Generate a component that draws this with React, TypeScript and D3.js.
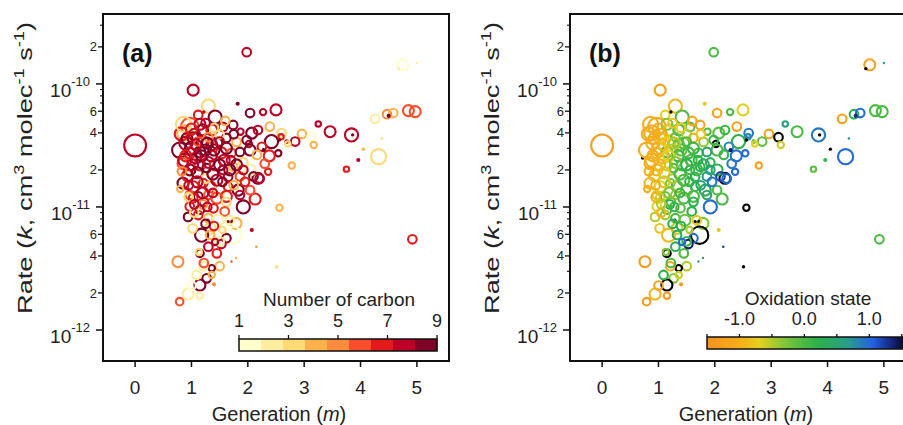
import React from "react";
import * as d3 from "d3";

// ---- data (one entry per species) ----
const generation = [
  0.0, 1.98, 4.75, 4.68, 5.0, 4.47, 4.58, 4.26, 4.85, 4.97, 4.5, 4.38, 4.32, 4.05, 3.96, 3.75, 3.84, 3.86, 3.46, 3.25,
  2.96, 2.84, 3.13, 3.17, 2.78, 4.92, 1.03, 1.3, 1.82, 2.04, 2.27, 2.5, 1.12, 1.42, 0.97, 1.74, 1.87, 2.07, 2.18, 2.39,
  2.6, 2.69, 2.54, 2.42, 2.38, 2.18, 2.13, 1.92, 2.56, 2.07, 1.79, 1.73, 1.62, 1.33, 1.18, 1.3, 1.15, 1.45, 1.5, 1.36,
  1.27, 1.15, 1.4, 0.94, 0.79, 0.76, 1.71, 2.51, 0.72, 1.22, 1.18, 2.02, 2.36, 2.59, 2.71, 2.15, 1.79, 0.88, 1.65, 1.72,
  1.29, 1.53, 2.56, 1.2, 1.36, 1.56, 0.82, 1.03, 1.21, 1.45, 1.62, 1.8, 1.98, 2.04, 2.25, 2.16, 0.79, 0.97, 1.15, 1.36,
  1.53, 1.71, 1.86, 1.92, 2.3, 0.85, 0.97, 1.15, 1.27, 1.42, 1.56, 1.74, 1.86, 2.04, 2.1, 2.21, 0.85, 1.03, 1.21, 1.33,
  1.5, 1.65, 1.83, 2.04, 0.97, 1.12, 1.3, 1.62, 1.86, 1.03, 1.22, 1.45, 1.62, 0.97, 1.15, 1.39, 1.59, 0.94, 1.12, 1.3,
  1.47, 1.68, 1.33, 1.5, 1.21, 1.09, 1.36, 0.9, 1.0, 1.08, 0.88, 1.05, 0.93, 1.1, 0.83, 1.12, 1.25, 1.3, 1.5, 1.58,
  1.35, 1.65, 1.45, 1.25, 1.75, 1.95, 2.28, 0.86, 1.15, 1.4, 1.6, 0.8, 0.95, 1.2, 1.05, 1.28, 1.4, 1.55, 1.25, 1.42,
  1.02, 1.13, 1.22, 1.0, 1.15, 0.92, 1.08, 1.18, 1.3, 1.4, 1.5, 1.62, 1.7, 1.8, 0.9, 1.02, 1.1, 1.38, 1.55, 1.2,
  1.38, 1.05, 1.75, 1.0, 1.25, 1.68, 0.95, 1.5, 1.28, 1.92,
];
const rate = [
  3.16e-11, 1.81e-10, 1.43e-10, 1.33e-10, 1.48e-10, 5.67e-11, 5.8e-11, 5.2e-11, 6.07e-11, 5.95e-11, 5.5e-11, 3.6e-11, 2.56e-11, 2.95e-11, 2.41e-11, 2.03e-11, 3.85e-11, 3.85e-11, 4.09e-11, 4.73e-11,
  3.92e-11, 3.4e-11, 3.69e-11, 3.19e-11, 2.17e-11, 5.46e-12, 8.9e-11, 6.6e-11, 6.9e-11, 5.8e-11, 5.9e-11, 6.15e-11, 5.6e-11, 5.37e-11, 4.5e-11, 4.64e-11, 4.09e-11, 3.98e-11, 4.22e-11, 4.5e-11,
  3.98e-11, 3.4e-11, 2.73e-11, 3.4e-11, 2.6e-11, 1.71e-11, 1.16e-11, 1.0e-11, 9.86e-12, 6.5e-12, 7.36e-12, 5.9e-12, 5.57e-12, 6.7e-12, 5.9e-12, 4.75e-12, 4.2e-12, 4.2e-12, 3.3e-12, 3.18e-12,
  2.63e-12, 2.32e-12, 2.35e-12, 1.96e-12, 1.7e-12, 3.59e-12, 3.6e-12, 3.27e-12, 2.5e-11, 5.92e-11, 1.66e-11, 3.25e-11, 1.93e-11, 3.72e-11, 3.25e-11, 4.75e-12, 3.85e-12, 4.0e-11, 7.6e-12, 7.6e-12,
  7.8e-12, 5.0e-12, 3.5e-11, 4.23e-11, 4.23e-11, 4.47e-11, 3.92e-11, 3.64e-11, 3.38e-11, 3.3e-11, 3.64e-11, 3.38e-11, 3.5e-11, 2.9e-11, 3.08e-11, 2.65e-11, 2.9e-11, 2.75e-11, 2.8e-11, 3.2e-11,
  2.75e-11, 2.75e-11, 2.8e-11, 2.3e-11, 2.25e-11, 2.25e-11, 2.0e-11, 2.2e-11, 2.07e-11, 2.2e-11, 2.0e-11, 2.12e-11, 1.77e-11, 2.0e-11, 1.77e-11, 1.7e-11, 1.56e-11, 1.46e-11, 1.56e-11, 1.46e-11,
  1.37e-11, 1.46e-11, 1.37e-11, 1.37e-11, 1.25e-11, 1.22e-11, 1.25e-11, 1.22e-11, 1.25e-11, 1.18e-11, 1.1e-11, 1.18e-11, 1.1e-11, 1.01e-11, 9.5e-12, 9.75e-12, 9.2e-12, 8.3e-12, 8.6e-12, 8.1e-12,
  7.8e-12, 7.8e-12, 5.92e-12, 5.25e-12, 3.3e-12, 2.8e-12, 2.8e-12, 3.3e-11, 3.0e-11, 2.5e-11, 2.4e-11, 3.9e-11, 1.8e-11, 1.9e-11, 1.95e-11, 3.4e-11, 2.9e-11, 3.7e-11, 3.9e-11, 2.4e-11,
  2.6e-11, 1.75e-11, 1.65e-11, 1.7e-11, 1.5e-11, 1.6e-11, 2.9e-11, 4.7e-11, 4.7e-11, 4.4e-11, 5.0e-11, 1.4e-11, 1.2e-11, 1.05e-11, 9.0e-12, 1.0e-11, 7.0e-12, 6.5e-12, 7.3e-12, 5.2e-12,
  6.7e-12, 4.3e-12, 3.5e-12, 2.3e-12, 1.9e-12, 3.6e-11, 3.2e-11, 2.6e-11, 2.3e-11, 2.9e-11, 3.4e-11, 3.0e-11, 2.4e-11, 2.2e-11, 2.6e-11, 2.2e-11, 1.6e-11, 1.85e-11, 1.6e-11, 1.3e-11,
  1.3e-11, 1.05e-11, 3.9e-11, 4.3e-11, 4.8e-11, 2.0e-11, 1.5e-11, 2.2e-11, 3.3e-11, 2.0e-11,
];
const carbon = [
  8, 8, 1, 2, 2, 5, 4, 2, 6, 6, 9, 3, 3, 4, 8, 7, 8, 9, 8, 8,
  4, 8, 1, 4, 4, 7, 8, 3, 9, 9, 8, 8, 7, 9, 6, 9, 8, 9, 8, 4,
  3, 8, 9, 9, 7, 9, 7, 9, 4, 8, 4, 1, 9, 3, 9, 8, 9, 7, 4, 9,
  9, 9, 5, 2, 6, 5, 6, 3, 1, 8, 9, 8, 7, 7, 3, 5, 4, 4, 9, 9,
  9, 8, 9, 9, 7, 8, 7, 9, 7, 9, 9, 4, 9, 9, 7, 4, 9, 7, 9, 8,
  7, 6, 9, 3, 6, 6, 9, 7, 9, 7, 8, 4, 6, 2, 9, 8, 9, 7, 7, 7,
  3, 7, 9, 6, 6, 9, 6, 7, 8, 7, 7, 6, 3, 7, 9, 7, 6, 9, 7, 4,
  2, 2, 4, 2, 2, 2, 4, 8, 9, 8, 8, 8, 7, 9, 5, 6, 9, 5, 3, 8,
  8, 8, 8, 3, 4, 7, 9, 3, 8, 3, 4, 4, 3, 5, 3, 8, 7, 3, 9, 8,
  3, 3, 6, 1, 2, 9, 8, 9, 8, 9, 8, 9, 8, 9, 7, 8, 8, 9, 9, 8,
  8, 8, 9, 7, 8, 9, 8, 9, 9, 8,
];
const oxidation = [
  -1.3, 0.0, -1.2, 1.6, 0.7, 0.3, 1.0, -1.2, 0.0, 0.0, 1.3, 0.8, 1.0, 1.6, 0.1, -0.1, 0.9, 1.6, 0.0, 0.6,
  -1.2, -0.1, 1.6, -0.6, -1.2, 0.0, -1.2, -0.9, -0.8, -1.2, 0.0, -0.7, -0.7, 0.0, -1.1, -1.2, 0.0, -0.1, 0.1, -1.2,
  0.9, 0.0, 1.0, 0.2, 1.0, 1.5, 0.0, 1.0, 1.6, -0.8, -0.3, 1.6, 1.0, -0.6, -0.9, 0.3, 1.6, 0.0, -0.5, 1.6,
  -0.3, 1.6, -1.3, -0.9, -1.3, -1.3, 0.6, 1.6, 1.6, 1.6, 1.6, 1.6, 1.0, 0.8, -0.7, 1.3, 0.6, -1.1, 1.6, 1.6,
  1.6, 1.4, 1.6, -0.6, 0.0, -0.1, -1.0, -0.9, -0.8, 0.0, -1.0, -0.4, 0.1, 0.0, 0.8, 0.1, -1.0, -0.9, 0.0, -0.2,
  0.1, 0.0, 0.5, 0.3, 0.9, -1.0, -0.9, -0.6, -0.1, 0.0, 0.1, 0.2, 0.7, 0.2, 1.2, 1.0, -0.9, -0.7, -0.3, 0.0,
  -0.2, 0.1, 0.3, 0.0, -0.8, -0.2, -0.4, 0.0, 0.4, -0.6, -0.1, 0.0, 0.2, -0.7, 0.0, -0.1, 0.2, -0.5, -0.4, 0.0,
  -0.2, -0.8, 0.4, 0.1, -1.0, 0.2, -0.6, -1.0, -0.9, -0.9, -1.0, -1.0, -0.9, -0.8, -1.1, -0.7, -0.5, -0.2, -0.5, 0.0,
  0.1, 0.3, 0.0, -0.4, 0.5, 0.9, 1.4, -1.0, -0.3, -0.7, -1.1, -1.0, -1.0, 0.3, -0.9, 0.1, 0.2, -0.5, 0.3, 1.0,
  -0.8, -0.3, 0.0, -1.2, -1.3, -1.0, -0.9, -0.7, -0.3, -0.1, 0.0, 0.1, 0.2, 0.3, -1.0, -0.9, -0.6, 0.0, 0.2, -0.3,
  0.1, -0.5, -0.8, -1.0, -0.8, 0.1, -1.0, 0.2, -0.5, 0.6,
];
const abundance = [
  83, 13, 21, 2, 1, 13, 13, 13, 21, 21, 3, 1, 40, 2, 3, 5, 30, 2, 21, 5,
  13, 13, 13, 7, 7, 13, 21, 30, 3, 13, 7, 21, 13, 30, 53, 13, 7, 21, 13, 13,
  13, 4, 7, 30, 21, 21, 21, 30, 7, 3, 21, 53, 13, 21, 30, 13, 10, 13, 13, 7,
  13, 21, 3, 21, 10, 21, 1, 2, 2, 2, 2, 7, 7, 5, 5, 1, 1, 40, 2, 2,
  2, 13, 2, 21, 21, 13, 30, 21, 21, 21, 13, 13, 13, 21, 13, 13, 40, 21, 21, 21,
  21, 13, 13, 13, 13, 21, 21, 21, 13, 21, 13, 13, 13, 21, 13, 13, 21, 21, 13, 21,
  21, 13, 21, 13, 13, 13, 13, 21, 13, 13, 13, 21, 13, 13, 13, 13, 13, 13, 13, 13,
  21, 13, 13, 13, 13, 13, 7, 30, 30, 21, 30, 21, 21, 21, 13, 13, 21, 13, 13, 21,
  21, 13, 21, 13, 13, 13, 3, 40, 21, 13, 13, 7, 13, 13, 13, 13, 13, 7, 13, 7,
  13, 7, 13, 13, 7, 21, 21, 21, 21, 21, 13, 21, 13, 21, 21, 21, 21, 21, 13, 21,
  13, 13, 13, 21, 13, 21, 13, 21, 21, 13,
];

// ---- axes / legends ----
const xTicks = [0, 1, 2, 3, 4, 5];
const decades = [1e-12, 1e-11, 1e-10];
const decadeExp = ["-12", "-11", "-10"];
const labeledMinor = [2, 4, 6];
const unlabeledMinor = [3, 5, 7, 8, 9];
const carbonTicks = [1, 3, 5, 7, 9];
const carbonColors = ["#ffffcc", "#ffeda0", "#fed976", "#feb24c", "#fd8d3c", "#fc4e2a", "#e31a1c", "#bd0026", "#800026"];
const oxLabelTicks = [-1.0, 0.0, 1.0];
const oxMinorTicks = [-1.5, -1.0, -0.5, 0.0, 0.5, 1.0, 1.5];
const oxStops = [-1.55, -1.0, -0.7, -0.25, 0.2, 0.65, 1.05, 1.35, 1.6];
const oxColors = ["#f7901e", "#f5ad1c", "#e7cf1f", "#74c43a", "#2bb24a", "#2a9e86", "#2463e3", "#15237a", "#000000"];

const FONT = "'Liberation Sans', Arial, Helvetica, sans-serif";
const TOP = 14;
const BOTTOM = 361;
const PW = 346;

export default function App() {
  const y = d3.scaleLog().domain([5.6e-13, 3.7e-10]).range([BOTTOM, TOP]);
  const r = d3.scaleSqrt().domain([0, 100]).range([0, 12]);
  const oxColor = d3.scaleLinear<string>().domain(oxStops).range(oxColors).clamp(true);
  const idx = d3.range(generation.length);

  const panels = [
    { left: 103, label: "(a)", color: (i: number) => carbonColors[carbon[i] - 1] },
    { left: 570, label: "(b)", color: (i: number) => oxColor(oxidation[i]) },
  ];

  const cbA = d3.scaleLinear().domain([1, 9]).range([239, 437]);
  const cbB = d3.scaleLinear().domain([-1.5, 1.55]).range([707, 905]);
  const [b0, b1] = cbB.domain();
  const gradStops = d3.range(0, 1.0001, 0.02).map((t) => ({ t, c: oxColor(b0 + t * (b1 - b0)) }));

  return (
    <svg
      width={903}
      height={425}
      style={{ position: "absolute", left: 0, top: 0, background: "#fff" }}
      fontFamily={FONT}
    >
      <defs>
        <linearGradient id="oxgrad" x1="0" x2="1" y1="0" y2="0">
          {gradStops.map((s) => (
            <stop key={s.t} offset={s.t} stopColor={s.c} />
          ))}
        </linearGradient>
      </defs>
      {panels.map((p, pi) => {
        const x = d3.scaleLinear().domain([-0.57, 5.57]).range([p.left, p.left + PW]);
        const minorTicks: { v: number; m: number }[] = [];
        decades.forEach((d) => {
          labeledMinor.forEach((m) => {
            if (d * m < y.domain()[1]) minorTicks.push({ v: d * m, m });
          });
        });
        const smallTicks: number[] = [];
        decades.forEach((d) => unlabeledMinor.forEach((m) => { if (d * m < y.domain()[1]) smallTicks.push(d * m); }));
        return (
          <g key={pi}>
            {idx.map((i) => {
              const filled = abundance[i] < 5;
              const c = p.color(i);
              return (
                <circle
                  key={i}
                  cx={x(generation[i])}
                  cy={y(rate[i])}
                  r={r(abundance[i])}
                  fill={filled ? c : "none"}
                  stroke={c}
                  strokeWidth={filled ? 0 : 2.1}
                />
              );
            })}
            <rect x={p.left} y={TOP} width={PW} height={BOTTOM - TOP} fill="none" stroke="#111" strokeWidth={2} />
            {xTicks.map((t) => (
              <g key={t}>
                <line x1={x(t)} x2={x(t)} y1={BOTTOM} y2={BOTTOM + 6} stroke="#111" strokeWidth={1.5} />
                <text x={x(t)} y={394} textAnchor="middle" fontSize={19} fill="#222">
                  {t}
                </text>
              </g>
            ))}
            <text x={p.left + PW / 2 + 3} y={421} textAnchor="middle" fontSize={20} fill="#222">
              Generation (<tspan fontStyle="italic">m</tspan>)
            </text>
            {decades.map((d, k) => (
              <g key={d}>
                <line x1={p.left - 7} x2={p.left} y1={y(d)} y2={y(d)} stroke="#111" strokeWidth={1.5} />
                <text x={p.left - 13} y={y(d) + 13} textAnchor="end" fill="#222">
                  <tspan fontSize={19}>10</tspan>
                  <tspan fontSize={13} dy={-11}>
                    {decadeExp[k]}
                  </tspan>
                </text>
              </g>
            ))}
            {minorTicks.map((t) => (
              <g key={t.v}>
                <line x1={p.left - 5} x2={p.left} y1={y(t.v)} y2={y(t.v)} stroke="#111" strokeWidth={1.3} />
                <text x={p.left - 6} y={y(t.v)} dy="0.35em" textAnchor="end" fontSize={13} fill="#222">
                  {t.m}
                </text>
              </g>
            ))}
            {smallTicks.map((v) => (
              <line key={v} x1={p.left - 3} x2={p.left} y1={y(v)} y2={y(v)} stroke="#111" strokeWidth={1.1} />
            ))}
            <text
              transform={`translate(${p.left - 71},168) rotate(-90)`}
              textAnchor="middle"
              fontSize={21}
              fill="#222"
              textLength={292}
              lengthAdjust="spacingAndGlyphs"
            >
              Rate (<tspan fontStyle="italic">k</tspan>, cm
              <tspan fontSize={14} dy={-8}>3</tspan>
              <tspan dy={8}> molec</tspan>
              <tspan fontSize={14} dy={-8}>-1</tspan>
              <tspan dy={8}> s</tspan>
              <tspan fontSize={14} dy={-8}>-1</tspan>
              <tspan dy={8}>)</tspan>
            </text>
            <text x={p.left + 19} y={62} fontSize={25} fontWeight="bold" fill="#111">
              {p.label}
            </text>
          </g>
        );
      })}

      {/* colour bar a */}
      <text x={339} y={306} textAnchor="middle" fontSize={19} fill="#222">
        Number of carbon
      </text>
      {carbonColors.map((c, i) => (
        <rect key={c} x={239 + (i * 198) / 9} y={339} width={198 / 9 + 0.5} height={12} fill={c} />
      ))}
      <rect x={239} y={339} width={198} height={12} fill="none" stroke="#111" strokeWidth={1.5} />
      {carbonTicks.map((t) => (
        <g key={t}>
          <line x1={cbA(t)} x2={cbA(t)} y1={335} y2={339} stroke="#111" strokeWidth={1.3} />
          <text x={cbA(t)} y={327} textAnchor="middle" fontSize={18} fill="#222">
            {t}
          </text>
        </g>
      ))}

      {/* colour bar b */}
      <text x={808} y={305} textAnchor="middle" fontSize={19} fill="#222">
        Oxidation state
      </text>
      <rect x={707} y={337} width={198} height={12} fill="url(#oxgrad)" stroke="#111" strokeWidth={1.5} />
      {oxMinorTicks.map((t) => (
        <line key={t} x1={cbB(t)} x2={cbB(t)} y1={334} y2={337} stroke="#111" strokeWidth={1.3} />
      ))}
      {oxLabelTicks.map((t) => (
        <text key={t} x={cbB(t)} y={325} textAnchor="middle" fontSize={18} fill="#222">
          {t.toFixed(1)}
        </text>
      ))}
    </svg>
  );
}
